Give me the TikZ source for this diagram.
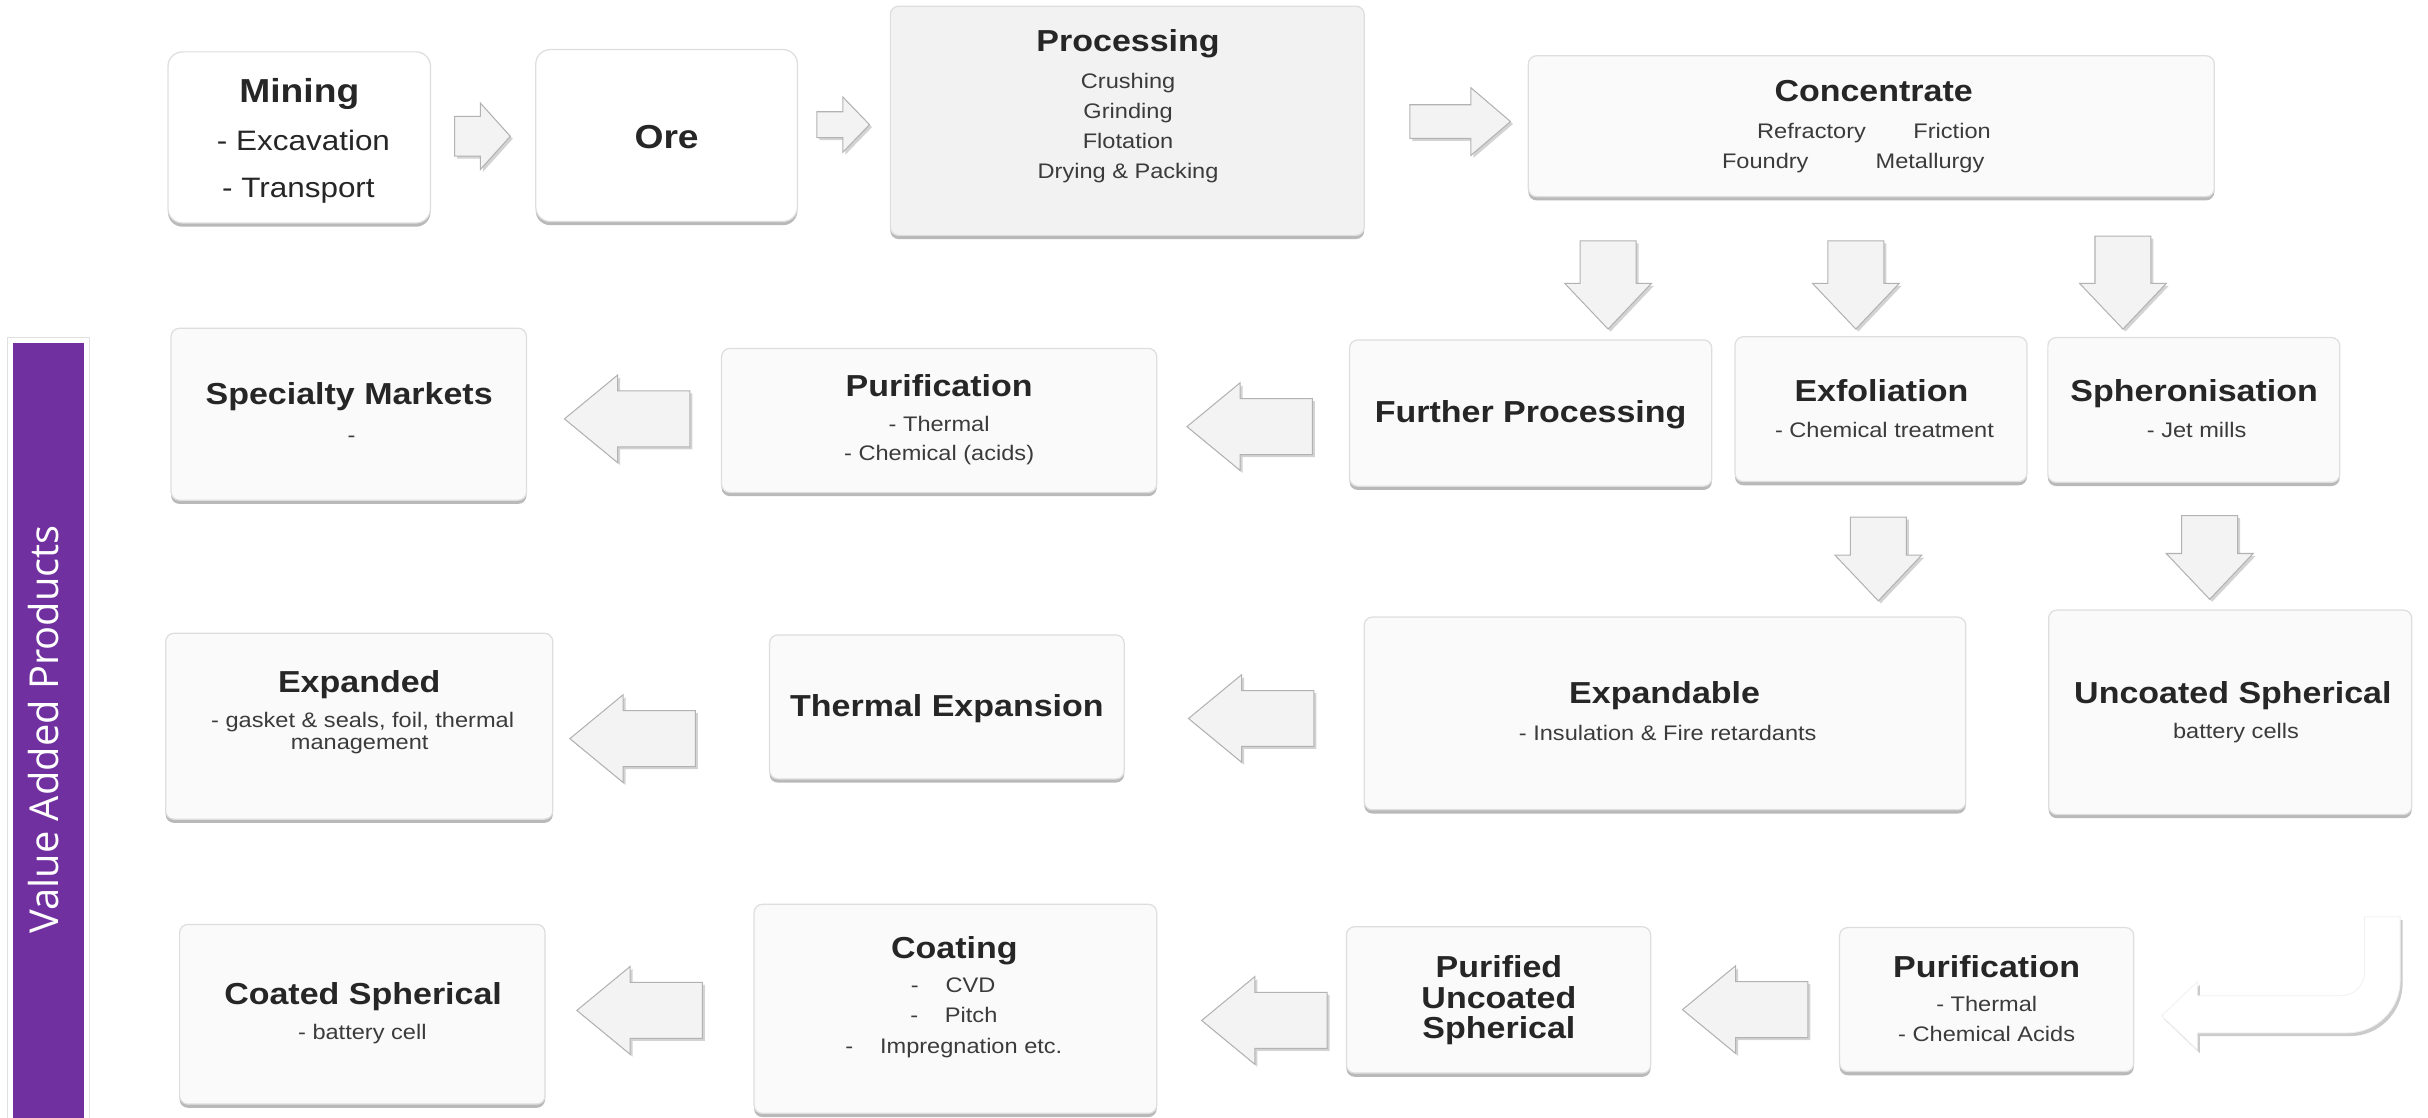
\documentclass[tikz,border=0pt]{standalone}
\usepackage{fontspec}
\setmainfont{Liberation Sans}[FakeStretch=1.12]
\newfontfamily\barfont{Open Sans}
\usepackage{tikz}
\usetikzlibrary{shapes.arrows,shadows,fit}

\definecolor{panelfill}{HTML}{FAFAFA}
\definecolor{procfill}{HTML}{F2F2F2}
\definecolor{titlegrey}{HTML}{262626}
\definecolor{subgrey}{HTML}{3B3B3B}
\definecolor{barpurple}{HTML}{7030A0}
\definecolor{arrowfill}{HTML}{F3F3F3}

\tikzset{
  panel/.style={rectangle, rounded corners=4pt, inner sep=0pt, draw=black!13, line width=0.6pt, fill=panelfill,
    drop shadow={shadow xshift=0pt, shadow yshift=-1.8pt, fill=black!55, opacity=0.5}},
  whitepanel/.style={panel, fill=white, rounded corners=7pt},
  procpanel/.style={panel, fill=procfill},
  title/.style={anchor=base, inner sep=0pt, text=titlegrey, font=\fontsize{14.7}{17}\selectfont\bfseries},
  bigtitle/.style={title, font=\fontsize{16.1}{19}\selectfont\bfseries},
  subtext/.style={anchor=base, inner sep=0pt, text=subgrey, font=\fontsize{10.2}{12}\selectfont},
  bigsub/.style={subtext, text=titlegrey, font=\fontsize{13.6}{16}\selectfont},
  blockarrow/.style={single arrow, anchor=tip, draw=black!30, line width=0.5pt, fill=arrowfill, minimum width=0pt,
    drop shadow={shadow xshift=1.2pt, shadow yshift=-1.2pt, fill=black!50, opacity=0.35}},
  rightarrow/.style={blockarrow, inner xsep=0pt},
  leftarrow/.style={blockarrow, shape border rotate=180, inner xsep=0pt, inner ysep=13.3pt,
    minimum height=60.75pt, single arrow head extend=7.7pt, single arrow tip angle=79},
  downarrow/.style={blockarrow, shape border rotate=270, inner ysep=0pt, inner xsep=13.3pt,
    minimum height=42.75pt, single arrow head extend=7.5pt, single arrow tip angle=87},
}

\begin{document}
\begin{tikzpicture}[x=0.75pt,y=0.75pt,yscale=-1,xscale=1]
\useasboundingbox (0,0) rectangle (1568,722);

%Shape: Rectangle [id:bar]
\draw [draw=black!12, fill=white, line width=0.6pt] (5,218) rectangle (58,740);
\fill [barpurple] (8.5,221.5) rectangle (54.5,740);
% Text Node
\node [anchor=base, rotate=90, inner sep=0pt, text=white, font=\barfont\fontsize{19.3}{21}\selectfont] (vap) at (38,471) {Value Added Products};

%Shape: Rounded Rectangle [id:row1]
\node [whitepanel, fit={(108.5,33.5) (278,144)}] (mining) {};
\node [whitepanel, fit={(346,32) (515,143)}] (ore) {};
\node [procpanel, fit={(575,4) (881,152)}] (proc) {};
\node [panel, fit={(987,36) (1430,127)}] (conc) {};
%Shape: Rounded Rectangle [id:row2]
\node [panel, fit={(110.5,212) (340,323)}] (spec) {};
\node [panel, fit={(466,225) (747,318)}] (purA) {};
\node [panel, fit={(871.5,219.5) (1105.5,314)}] (furth) {};
\node [panel, fit={(1120.5,217.5) (1309,311)}] (exfo) {};
\node [panel, fit={(1322.5,218) (1511,311.5)}] (spher) {};
%Shape: Rounded Rectangle [id:row3]
\node [panel, fit={(107,409) (357,529)}] (expd) {};
\node [panel, fit={(497,410) (726,503)}] (thexp) {};
\node [panel, fit={(881,398.5) (1269.5,523)}] (expble) {};
\node [panel, fit={(1323,394) (1557.5,526)}] (uncs) {};
%Shape: Rounded Rectangle [id:row4]
\node [panel, fit={(116,597) (352,713)}] (coats) {};
\node [panel, fit={(487,584) (747,719)}] (coat) {};
\node [panel, fit={(869.5,598.5) (1066,693)}] (purus) {};
\node [panel, fit={(1188,599) (1378,692)}] (purB) {};

%Shape: Right Arrow [id:ra]
\node [rightarrow, minimum height=27pt, inner ysep=9.4pt, single arrow head extend=6.4pt, single arrow tip angle=96] (mo) at (330,88) {};
\node [rightarrow, minimum height=25.5pt, inner ysep=6pt, single arrow head extend=7.1pt, single arrow tip angle=92] (op) at (562,80.5) {};
\node [rightarrow, minimum height=48.75pt, inner ysep=7.9pt, single arrow head extend=8.25pt, single arrow tip angle=81] (pc) at (976,78.5) {};
%Shape: Down Arrow [id:da]
\node [downarrow] (cf) at (1038.5,213) {};
\node [downarrow] (ce) at (1198.5,213) {};
\node [downarrow, minimum height=45pt] (cs) at (1371,213) {};
\node [downarrow, minimum height=40.5pt] (ee) at (1213,388.5) {};
\node [downarrow, minimum height=40.5pt] (su) at (1427,387.5) {};
%Shape: Left Arrow [id:la]
\node [leftarrow] (fs) at (364,270.5) {};
\node [leftarrow] (fp) at (766,275.5) {};
\node [leftarrow] (te) at (367.5,477) {};
\node [leftarrow] (et) at (767,464) {};
\node [leftarrow] (cc) at (372,652.5) {};
\node [leftarrow] (pc2) at (775.5,659) {};
\node [leftarrow] (pp) at (1086,652) {};

%Shape: Bent Arrow [id:ret]
\draw [draw=black!6, fill=white, line width=0.4pt, drop shadow={shadow xshift=1.2pt, shadow yshift=-1.6pt, fill=black!45, opacity=0.45}]
  (1396,656) -- (1419,634) -- (1419,643) -- (1512,643) .. controls (1520.3,643) and (1527,636.3) .. (1527,628) -- (1527,592) -- (1550,592) -- (1550,633) .. controls (1550,651.8) and (1534.8,667) .. (1516,667) -- (1419,667) -- (1419,678) -- cycle ;

% Text Node
\node [bigtitle] (miningT) at (193.3,66.3) {Mining};
\node [bigsub] (miningA) at (196,97.3) {- Excavation};
\node [bigsub] (miningB) at (192.7,127.7) {- Transport};
\node [bigtitle] (oreT) at (430.5,95.6) {Ore};
% Text Node
\node [title] (procT) at (728.5,33.4) {Processing};
\node [subtext] (procA) at (728.5,57) {Crushing};
\node [subtext] (procB) at (728.5,76.4) {Grinding};
\node [subtext] (procC) at (728.5,95.8) {Flotation};
\node [subtext] (procD) at (728.5,115.2) {Drying \& Packing};
% Text Node
\node [title] (concT) at (1210,65.7) {Concentrate};
\node [subtext] (concA) at (1210.2,89.3) {Refractory\hspace{23pt}Friction};
\node [subtext] (concB) at (1196.8,108.7) {Foundry\hspace{32.5pt}Metallurgy};
% Text Node
\node [title] (specT) at (225.5,261.5) {Specialty Markets};
\node [subtext] (specA) at (227,285.5) {-};
\node [title] (purAT) at (606.5,256) {Purification};
\node [subtext] (purAA) at (606.5,278.5) {- Thermal};
\node [subtext] (purAB) at (606.5,297.5) {- Chemical (acids)};
\node [title] (furthT) at (988.5,273) {Further Processing};
\node [title] (exfoT) at (1215,259.4) {Exfoliation};
\node [subtext] (exfoA) at (1217,282.4) {- Chemical treatment};
\node [title] (spherT) at (1417,259.4) {Spheronisation};
\node [subtext] (spherA) at (1418.6,282.4) {- Jet mills};
% Text Node
\node [title] (expdT) at (232,447) {Expanded};
\node [subtext] (expdA) at (234.2,470) {- gasket \& seals, foil, thermal};
\node [subtext] (expdB) at (232.3,484) {management};
\node [title] (thexpT) at (611.5,463) {Thermal Expansion};
\node [title] (expbleT) at (1075,454.6) {Expandable};
\node [subtext] (expbleA) at (1077,477.9) {- Insulation \& Fire retardants};
\node [title] (uncsT) at (1442,454) {Uncoated Spherical};
\node [subtext] (uncsA) at (1444,477) {battery cells};
% Text Node
\node [title] (coatsT) at (234.5,649) {Coated Spherical};
\node [subtext] (coatsA) at (234,671.5) {- battery cell};
\node [title] (coatT) at (616.3,618.8) {Coating};
\node [subtext] (coatA) at (615.5,641) {-\hspace{13pt}CVD};
\node [subtext] (coatB) at (616,660.4) {-\hspace{13pt}Pitch};
\node [subtext] (coatC) at (616,680.2) {-\hspace{13pt}Impregnation etc.};
\node [title] (purusA) at (968,631.5) {Purified};
\node [title] (purusB) at (968,651) {Uncoated};
\node [title] (purusC) at (968,670.5) {Spherical};
\node [title] (purBT) at (1283,631) {Purification};
\node [subtext] (purBA) at (1283,653.5) {- Thermal};
\node [subtext] (purBB) at (1283,672.5) {- Chemical Acids};

\end{tikzpicture}
\end{document}
